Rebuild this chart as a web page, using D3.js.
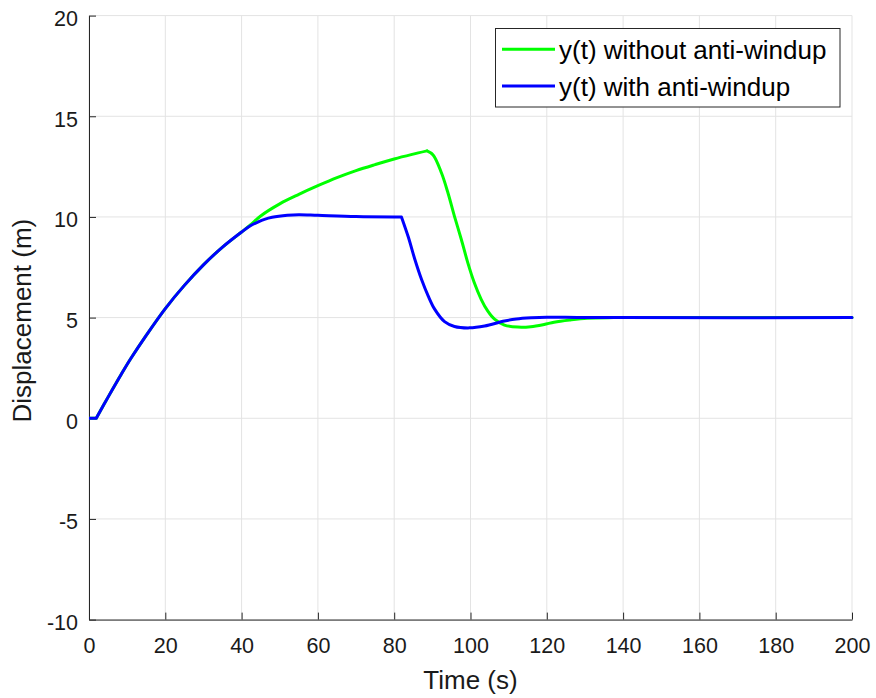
<!DOCTYPE html>
<html>
<head>
<meta charset="utf-8">
<script src="https://cdn.jsdelivr.net/npm/d3@7"></script>
<style>
  body { margin: 0; background: #fff; }
  svg { display: block; font-family: "Liberation Sans", Arial, Helvetica, sans-serif; }
</style>
</head>
<body>
<svg id="chart" width="876" height="698"></svg>
<script>
// Step response of the PI loop with a saturated actuator
const timeNoAW = [0, 1.9, 5, 8.5, 11, 15, 20, 25, 30, 35, 40, 42.3, 45, 50, 55, 60, 65, 70, 75, 80, 85, 88.6, 90.2, 92.4, 94.1, 95.8, 97.6, 99.3, 101.0, 102.8, 104.5, 106.3, 108.9, 112.4, 115.8, 119.3, 121.9, 126, 130.6, 137.5, 150, 200];
const yNoAW    = [0, 0, 1.05, 2.2, 2.98, 4.12, 5.45, 6.6, 7.62, 8.5, 9.25, 9.6, 10.05, 10.65, 11.12, 11.55, 11.95, 12.3, 12.6, 12.88, 13.12, 13.28, 13.08, 12.18, 11.19, 10.03, 8.88, 7.72, 6.73, 5.91, 5.33, 4.92, 4.63, 4.53, 4.55, 4.66, 4.77, 4.88, 4.97, 5.0, 5.0, 5.0];
const cornersNoAW = [1.9, 88.6];

const timeAW = [0, 1.9, 5, 8.5, 11, 15, 20, 25, 30, 35, 40, 42.3, 44.4, 46, 48, 52, 55, 60, 70, 80, 81.9, 83.7, 85.4, 87.2, 88.9, 90.6, 93.2, 95.8, 99.7, 103.7, 108.9, 112, 116, 120, 128, 140, 200];
const yAW    = [0, 0, 1.05, 2.2, 2.98, 4.12, 5.45, 6.6, 7.62, 8.5, 9.25, 9.56, 9.76, 9.88, 9.98, 10.08, 10.11, 10.08, 10.02, 10.0, 10.0, 9.0, 7.9, 6.88, 6.08, 5.42, 4.8, 4.56, 4.49, 4.58, 4.83, 4.93, 4.99, 5.02, 5.01, 5.0, 5.0];
const cornersAW = [1.9, 81.9];

const xTicks = [0, 20, 40, 60, 80, 100, 120, 140, 160, 180, 200];
const yTicks = [-10, -5, 0, 5, 10, 15, 20];

const seriesNames  = ["y(t) without anti-windup", "y(t) with anti-windup"];
const seriesColors = ["#00ff00", "#0000ff"];

const svg = d3.select("#chart");
const plotLeft = 89, plotRight = 852, plotTop = 15.6, plotBottom = 619.6;

const x = d3.scaleLinear().domain([0, 200]).range([plotLeft, plotRight]);
const y = d3.scaleLinear().domain([-10, 20]).range([plotBottom, plotTop]);

// grid
const grid = svg.append("g").attr("stroke", "#e3e3e3").attr("stroke-width", 1);
xTicks.forEach(t => grid.append("line")
  .attr("x1", x(t)).attr("x2", x(t)).attr("y1", plotTop).attr("y2", plotBottom));
yTicks.forEach(v => grid.append("line")
  .attr("x1", plotLeft).attr("x2", plotRight).attr("y1", y(v)).attr("y2", y(v)));

// axes with inward ticks
const axisColor = "#262626";
const fmt = d => String(d);
const xAxis = svg.append("g").attr("transform", `translate(0,${plotBottom})`)
  .call(d3.axisBottom(x).tickValues(xTicks).tickFormat(fmt).tickSizeInner(-7).tickSizeOuter(0).tickPadding(18));
const yAxis = svg.append("g").attr("transform", `translate(${plotLeft},0)`)
  .call(d3.axisLeft(y).tickValues(yTicks).tickFormat(fmt).tickSizeInner(-7).tickSizeOuter(0).tickPadding(11));
[xAxis, yAxis].forEach(a => {
  a.select(".domain").attr("stroke", axisColor).attr("stroke-width", 1);
  a.selectAll(".tick line").attr("stroke", axisColor);
  a.selectAll(".tick text").attr("fill", "#1a1a1a").attr("font-size", 21.5)
    .attr("font-family", "Liberation Sans, Arial, sans-serif");
});
yAxis.selectAll(".tick text").attr("dy", "0.46em");

// curves, drawn piecewise so the switching instants keep their sharp corners
const line = d3.line().x(d => x(d[0])).y(d => y(d[1])).curve(d3.curveCatmullRom.alpha(0.5));
function pieces(ts, ys, corners) {
  const pts = d3.zip(ts, ys);
  const cuts = [0, ...corners.map(c => ts.indexOf(c)), ts.length - 1];
  const out = [];
  for (let i = 0; i < cuts.length - 1; i++) out.push(pts.slice(cuts[i], cuts[i + 1] + 1));
  return out;
}
svg.append("clipPath").attr("id", "plotclip")
  .append("rect").attr("x", plotLeft).attr("y", plotTop - 2)
  .attr("width", plotRight - plotLeft + 2).attr("height", plotBottom - plotTop + 4);

const plot = svg.append("g").attr("clip-path", "url(#plotclip)");
[[timeNoAW, yNoAW, cornersNoAW], [timeAW, yAW, cornersAW]].forEach(([ts, ys, cs], i) => {
  const d = pieces(ts, ys, cs).map(seg => line(seg)).join("");
  plot.append("path").attr("d", d).attr("fill", "none")
    .attr("stroke", seriesColors[i]).attr("stroke-width", 3)
    .attr("stroke-linejoin", "round").attr("stroke-linecap", "round");
});

// axis titles
svg.append("text").attr("x", (plotLeft + plotRight) / 2).attr("y", 689)
  .attr("text-anchor", "middle").attr("font-size", 26).attr("fill", "#1a1a1a").text("Time (s)");
svg.append("text").attr("transform", `translate(31,${(plotTop + plotBottom) / 2 + 3}) rotate(-90)`)
  .attr("text-anchor", "middle").attr("font-size", 26).attr("fill", "#1a1a1a").text("Displacement (m)");

// legend
const lg = svg.append("g");
lg.append("rect").attr("x", 495.5).attr("y", 28.5).attr("width", 344.5).attr("height", 78.5)
  .attr("fill", "#fff").attr("stroke", "#262626").attr("stroke-width", 1);
seriesNames.forEach((name, i) => {
  const cy = 49.3 + i * 36.7;
  lg.append("line").attr("x1", 502).attr("x2", 555).attr("y1", cy).attr("y2", cy)
    .attr("stroke", seriesColors[i]).attr("stroke-width", 3);
  lg.append("text").attr("x", 559).attr("y", cy + 10).attr("font-size", 26)
    .attr("fill", "#000").text(name);
});
</script>
</body>
</html>
